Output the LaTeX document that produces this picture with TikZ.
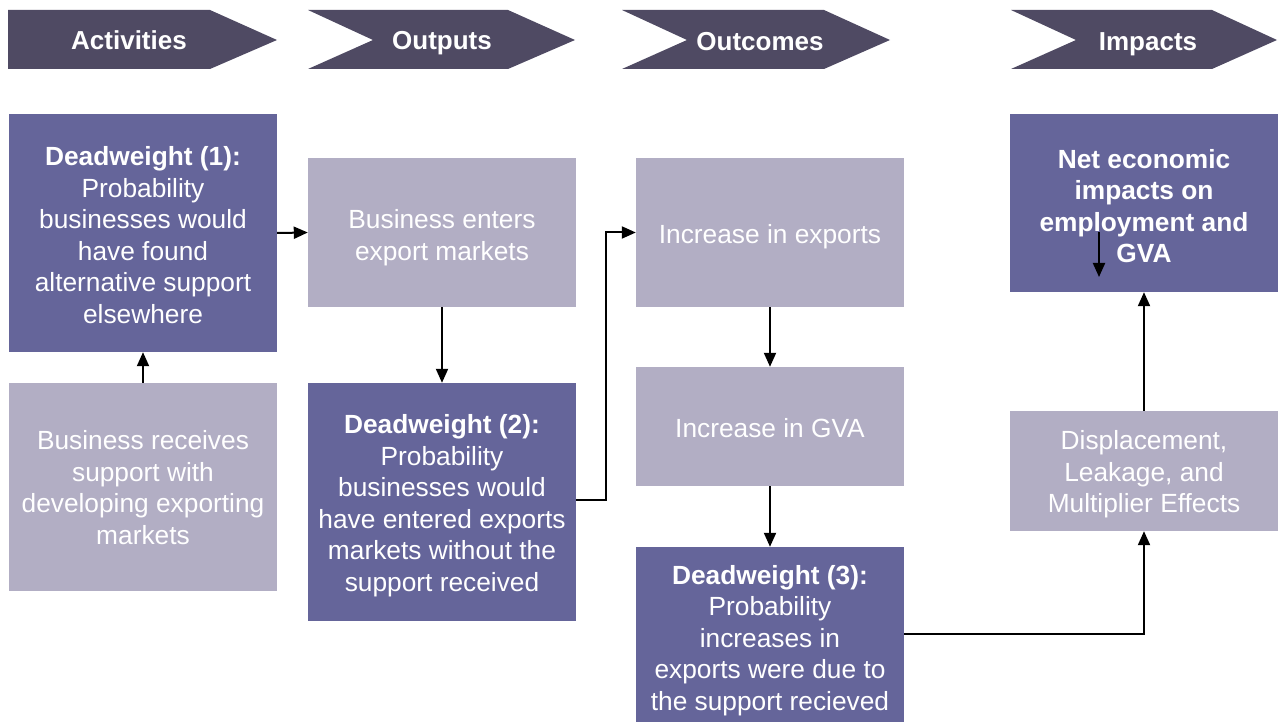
\documentclass[tikz,border=0pt]{standalone}
\usepackage{fontspec}
\setmainfont{Liberation Sans}
\usetikzlibrary{arrows.meta}
\definecolor{chev}{HTML}{4F4A63}
\definecolor{darkb}{HTML}{65659A}
\definecolor{lightb}{HTML}{B2AEC4}
\begin{document}
\begin{tikzpicture}[x=1pt,y=-1pt,
  box/.style={minimum width=268pt, inner sep=0pt},
  darkbox/.style={box, fill=darkb},
  lightbox/.style={box, fill=lightb},
  boxtext/.style={inner sep=0pt, align=center, text=white, font=\fontsize{26.3}{31.5}\selectfont},
  chevlabel/.style={text=white, font=\fontsize{26}{30}\selectfont\bfseries, inner sep=0pt, anchor=base},
  arr/.style={-{Triangle[length=14pt,width=12pt]}, line width=2pt, black}]
\useasboundingbox (0,0) rectangle (1283,722);
% chevrons
\fill[chev] (8,10) -- (210,10) -- (277,40) -- (210,69) -- (8,69) -- cycle;
\fill[chev] (308,10) -- (508,10) -- (575,40) -- (508,69) -- (308,69) -- (373,40) -- cycle;
\fill[chev] (622,10) -- (824,10) -- (890,40) -- (824,69) -- (622,69) -- (687,40) -- cycle;
\fill[chev] (1011,10) -- (1212,10) -- (1277,40) -- (1212,69) -- (1011,69) -- (1076,40) -- cycle;
\node[chevlabel] (lact) at (129,50) {Activities};
\node[chevlabel] (lout) at (442,50) {Outputs};
\node[chevlabel] (loutc) at (760,51) {Outcomes};
\node[chevlabel] (limp) at (1148,51) {Impacts};
% boxes
\node[darkbox, minimum height=238pt] (d1) at (143,233) {};
\node[lightbox, minimum height=208pt] (recv) at (143,487) {};
\node[lightbox, minimum height=149pt] (enters) at (442,232.5) {};
\node[darkbox, minimum height=238pt] (d2) at (442,502) {};
\node[lightbox, minimum height=149pt] (exports) at (770,232.5) {};
\node[lightbox, minimum height=119pt] (gva) at (770,426.5) {};
\node[darkbox, minimum height=182pt] (d3) at (770,638) {};
\node[darkbox, minimum height=178pt] (net) at (1144,203) {};
\node[lightbox, minimum height=120pt] (disp) at (1144,471) {};
% box texts
\node[boxtext] (d1t) at ([yshift=-2pt]d1.center) {\textbf{Deadweight (1):}\\Probability\\businesses would\\have found\\alternative support\\elsewhere};
\node[boxtext] (recvt) at ([yshift=-0.5pt]recv.center) {Business receives\\support with\\developing exporting\\markets};
\node[boxtext] (enterst) at ([yshift=-5pt]enters.center) {Business enters\\export markets};
\node[boxtext] (d2t) at ([yshift=-3.5pt]d2.center) {\textbf{Deadweight (2):}\\Probability\\businesses would\\have entered exports\\markets without the\\support received};
\node[boxtext] (exportst) at ([yshift=-4pt]exports.center) {Increase in exports};
\node[boxtext] (gvat) at ([yshift=-2pt]gva.center) {Increase in GVA};
\node[boxtext] (d3t) at ([yshift=-2.5pt]d3.center) {\textbf{Deadweight (3):}\\Probability\\increases in\\exports were due to\\the support recieved};
\node[boxtext, font=\fontsize{26.3}{31.5}\selectfont\bfseries] (nett) at ([yshift=-3pt]net.center) {Net economic\\impacts on\\employment and\\GVA};
\node[boxtext] (dispt) at ([yshift=-3.5pt]disp.center) {Displacement,\\Leakage, and\\Multiplier Effects};
% connectors
\draw[arr] (recv.north) -- (d1.south);
\draw[arr] (d1.east) -- (enters.west);
\draw[arr] (enters.south) -- (d2.north);
\draw[arr] ([yshift=2pt]d2.east) -- ++(30,0) |- (exports.west);
\draw[arr] (exports.south) -- (gva.north);
\draw[arr] (gva.south) -- (d3.north);
\draw[arr] ([yshift=4pt]d3.east) -| (disp.south);
\draw[arr] (disp.north) -- (net.south);
\coordinate (s1) at (1099,232);
\coordinate (s2) at (1099,277);
\draw[arr] (s1) -- (s2);
\end{tikzpicture}
\end{document}
